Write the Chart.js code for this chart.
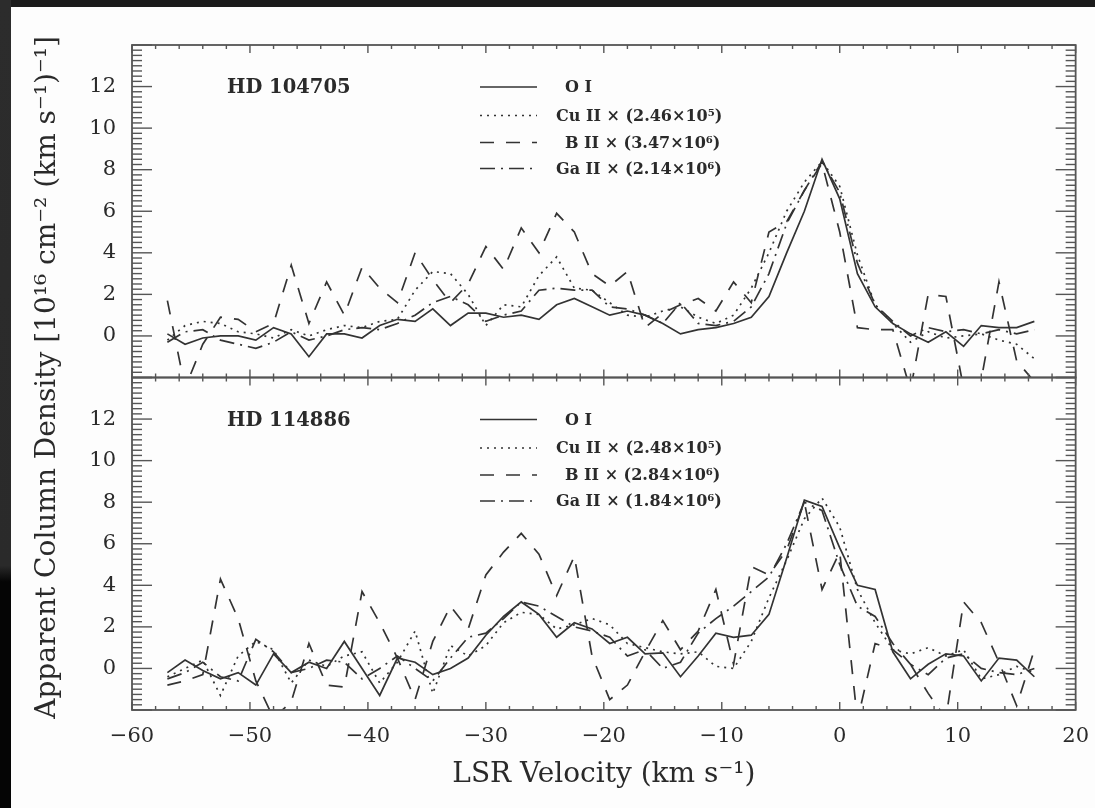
<!DOCTYPE html>
<html><head><meta charset="utf-8">
<script src="https://cdn.jsdelivr.net/npm/chart.js@4.4.0/dist/chart.umd.min.js"></script>
<style>
html,body{margin:0;padding:0;width:1095px;height:808px;overflow:hidden;background:#1b1b1b;}
#strip{position:absolute;left:0;top:0;width:11px;height:808px;background:linear-gradient(#2c2c2c 0%,#2a2a2a 70%,#050505 72%,#050505 100%);}
#wrap{position:absolute;left:11px;top:7px;width:1084px;height:801px;background:#fdfdfd;}
canvas{display:block}
</style></head><body>
<div id="strip"></div>
<div id="wrap"><canvas id="c" width="1084" height="801"></canvas></div>
<script>
// ---- data (LSR velocity grid, km/s) ----
const velocity = [-57,-55.5,-54,-52.5,-51,-49.5,-48,-46.5,-45,-43.5,-42,-40.5,-39,-37.5,-36,-34.5,-33,-31.5,-30,-28.5,-27,-25.5,-24,-22.5,-21,-19.5,-18,-16.5,-15,-13.5,-12,-10.5,-9,-7.5,-6,-4.5,-3,-1.5,0,1.5,3,4.5,6,7.5,9,10.5,12,13.5,15,16.5];

// HD 104705
const upperOI   = [0.1,-0.4,-0.1,0.0,0.0,-0.2,0.4,0.1,-1.0,0.1,0.1,-0.1,0.5,0.8,0.7,1.3,0.5,1.1,1.1,0.9,1.0,0.8,1.5,1.8,1.4,1.0,1.2,1.0,0.6,0.1,0.3,0.4,0.6,0.9,1.9,4.0,6.0,8.5,6.6,3.0,1.4,0.6,0.1,-0.3,0.2,-0.5,0.5,0.4,0.4,0.7];
const upperCuII = [-0.2,0.5,0.7,0.6,0.2,0.1,-0.1,0.3,0.0,0.3,0.5,0.4,0.7,0.8,2.2,3.1,3.0,2.0,0.5,1.5,1.4,2.9,3.8,2.3,2.2,1.6,1.0,0.9,1.2,1.4,0.9,0.6,1.0,2.3,4.0,6.0,7.4,8.4,7.2,3.9,1.5,0.6,-0.3,0.2,-0.1,0.0,0.1,-0.2,-0.4,-1.1];
const upperBII  = [1.7,-2.5,-0.4,0.9,0.8,0.2,0.6,3.4,0.6,2.6,1.0,3.3,2.3,1.6,4.0,2.7,1.6,2.5,4.3,3.2,5.2,4.0,5.9,5.0,3.0,2.4,3.1,0.4,1.1,1.5,1.8,1.2,2.6,1.6,5.0,5.5,7.0,8.3,5.0,0.4,0.3,0.3,-2.6,2.0,1.9,-2.5,-2.1,2.6,-1.2,-2.2];
const upperGaII = [-0.3,0.2,0.3,-0.2,-0.4,-0.6,-0.3,0.2,-0.2,0.0,0.3,0.4,0.3,0.6,1.0,1.6,1.9,1.5,0.7,1.0,1.2,2.2,2.3,2.2,2.2,1.4,1.3,1.0,0.6,1.6,0.6,0.5,0.7,1.4,3.0,5.4,7.0,8.4,6.9,3.5,1.5,0.7,0.0,0.4,0.2,0.3,0.1,0.3,0.1,0.3];

// HD 114886
const lowerOI   = [-0.2,0.4,-0.1,-0.5,-0.2,-0.8,0.7,-0.2,0.3,0.0,1.3,0.0,-1.3,0.5,0.3,-0.3,0.0,0.5,1.6,2.5,3.2,2.6,1.5,2.2,1.9,1.2,1.5,0.7,0.75,-0.4,0.6,1.7,1.5,1.6,2.6,5.3,8.1,7.8,5.8,4.0,3.8,0.8,-0.5,0.2,0.7,0.6,-0.6,0.5,0.4,-0.4];
const lowerCuII = [-0.4,0.0,0.4,-1.3,0.6,1.3,0.9,-0.7,0.4,0.1,0.6,0.8,-0.7,0.3,1.8,-1.2,1.1,0.6,1.1,2.2,2.7,2.6,1.9,2.1,2.4,2.1,1.2,1.0,0.8,0.7,0.8,0.1,0.0,1.3,3.4,5.2,7.2,8.2,6.8,3.8,2.2,0.9,0.7,1.0,0.6,0.9,-0.5,-0.3,0.1,-0.2];
const lowerBII  = [-0.8,-0.6,-0.3,4.3,2.4,-0.6,-2.4,-1.6,1.2,-0.8,-0.9,3.7,2.2,0.5,-1.5,1.3,3.0,1.9,4.5,5.6,6.5,5.5,3.5,5.4,0.6,-1.5,-0.8,0.8,2.3,0.9,1.8,3.8,0.2,4.9,4.5,5.7,8.0,3.8,5.6,-2.5,1.2,0.9,0.2,-1.2,-2.4,3.2,2.2,0.3,-1.8,0.9];
const lowerGaII = [-0.5,-0.2,0.3,-0.4,-0.6,1.4,0.8,-0.2,0.0,0.4,0.3,-0.5,0.0,0.6,0.0,-0.6,0.5,1.5,1.7,2.4,3.2,3.0,2.5,2.0,1.8,1.5,0.6,0.9,0.0,0.3,1.7,2.4,3.0,3.7,4.4,6.0,8.0,7.6,5.0,3.0,2.5,1.2,0.2,-0.3,0.5,0.7,0.0,-0.2,-0.3,0.0];

const xTicks = [-60,-50,-40,-30,-20,-10,0,10,20];
const yTickLabels = [0,2,4,6,8,10,12];
const panelNames = ['HD 104705','HD 114886'];
const upperLegend = ['O I','Cu II × (2.46×10⁵)','B II × (3.47×10⁶)','Ga II × (2.14×10⁶)'];
const lowerLegend = ['O I','Cu II × (2.48×10⁵)','B II × (2.84×10⁶)','Ga II × (1.84×10⁶)'];

// ---- styles ----
const INK = '#2a2a2a';
const SERIF = '"DejaVu Serif", serif';
const styles = [
  {dash: []},
  {dash: [2,5]},
  {dash: [14,12]},
  {dash: [15,6,2,6]}
];
const pts = arr => velocity.map((v,i)=>({x:v,y:arr[i]}));
function ds(arr, k, axis){
  return {data: pts(arr), yAxisID: axis, xAxisID:'x', borderColor: '#333', borderWidth: 1.7,
          borderDash: styles[k].dash, pointRadius: 0, tension: 0, fill: false};
}

const frameTicks = {
  id:'frameTicks',
  afterDraw(chart){
    const ctx = chart.ctx, x = chart.scales.x;
    ctx.save();
    ctx.strokeStyle = '#555';
    const seg = (a,b,c,d)=>{ctx.beginPath();ctx.moveTo(a,b);ctx.lineTo(c,d);ctx.stroke();};
    ['yUpper','yLower'].forEach(id=>{
      const y = chart.scales[id];
      const L = x.left, R = x.right, T = y.top, B = y.bottom;
      ctx.lineWidth = 1.8;
      ctx.strokeRect(L,T,R-L,B-T);
      ctx.lineWidth = 1.4;
      for (let k=0;k<=64;k++){
        const v = -2 + k*0.25;
        const p = y.getPixelForValue(v);
        const len = (k%8===0)?20:10;
        seg(L,p,L+len,p); seg(R,p,R-len,p);
      }
      for (let v=-60; v<=20; v+=2){
        const p = x.getPixelForValue(v);
        const len = (v%10===0)?8:4;
        seg(p,T,p,T+len); seg(p,B,p,B-len);
      }
    });
    ctx.restore();
  }
};

const panelText = {
  id:'panelText',
  afterDraw(chart){
    const ctx = chart.ctx, x = chart.scales.x;
    ctx.save();
    ctx.fillStyle = INK; ctx.strokeStyle = '#333';
    ctx.textBaseline = 'middle';
    [['yUpper',panelNames[0],upperLegend],['yLower',panelNames[1],lowerLegend]].forEach(([id,name,leg])=>{
      const y = chart.scales[id];
      const T = y.top, L = x.left;
      ctx.font = 'bold 19.5px ' + SERIF;
      ctx.textAlign = 'left';
      ctx.fillText(name, L+95, T+43);
      const rows = [42,70.5,97.5,123.5];
      const indent = [9,0,9,0];
      ctx.font = 'bold 16px ' + SERIF;
      leg.forEach((t,i)=>{
        const yy = T + rows[i];
        ctx.lineWidth = 1.7;
        ctx.setLineDash(styles[i].dash);
        ctx.beginPath(); ctx.moveTo(L+348,yy); ctx.lineTo(L+405,yy); ctx.stroke();
        ctx.setLineDash([]);
        ctx.fillText(t, L+424+indent[i], yy+1);
      });
    });
    ctx.restore();
  }
};

const tickFont = {family: SERIF, size: 21};
const yLabel = v => yTickLabels.includes(v) ? String(v) : '';
const xLabel = v => xTicks.includes(v) ? (v<0 ? '\u2212'+Math.abs(v) : String(v)) : '';

new Chart(document.getElementById('c'), {
  type: 'line',
  data: {
    datasets: [
      ds(upperOI,0,'yUpper'), ds(upperCuII,1,'yUpper'), ds(upperBII,2,'yUpper'), ds(upperGaII,3,'yUpper'),
      ds(lowerOI,0,'yLower'), ds(lowerCuII,1,'yLower'), ds(lowerBII,2,'yLower'), ds(lowerGaII,3,'yLower')
    ]
  },
  options: {
    responsive: false, animation: false, devicePixelRatio: 1,
    layout: {padding: {left: 20, top: 38, right: 19, bottom: 16}},
    plugins: {legend: {display: false}, tooltip: {enabled: false}},
    scales: {
      x: {type:'linear', position:'bottom', min:-60, max:20,
          ticks:{stepSize:10, padding:6, font:tickFont, color:INK, callback:xLabel, maxRotation:0, autoSkip:false},
          grid:{display:false}, border:{display:false},
          title:{display:true, text:'LSR Velocity (km s⁻¹)', font:{family:SERIF, size:28}, color:INK, padding:{top:0,bottom:0}},
          afterFit: s => { s.height = 82; }},
      ytitle: {type:'linear', position:'left', weight:10, min:0, max:1,
          ticks:{display:false}, grid:{display:false}, border:{display:false},
          title:{display:true, text:'Apparent Column Density [10¹⁶ cm⁻² (km s⁻¹)⁻¹]', font:{family:SERIF, size:28}, color:INK, padding:{top:0,bottom:0}},
          afterFit: s => { s.width = 43; }},
      yUpper: {type:'linear', position:'left', stack:'panels', stackWeight:1, weight:2, min:-2, max:14,
          ticks:{stepSize:2, padding:8, font:tickFont, color:INK, callback:yLabel, autoSkip:false},
          grid:{display:false}, border:{display:false},
          afterFit: s => { s.width = 58; }},
      yLower: {type:'linear', position:'left', stack:'panels', stackWeight:1, weight:1, min:-2, max:14,
          ticks:{stepSize:2, padding:8, font:tickFont, color:INK, callback:yLabel, autoSkip:false},
          grid:{display:false}, border:{display:false},
          afterFit: s => { s.width = 58; }}
    }
  },
  plugins: [frameTicks, panelText]
});
</script>
</body></html>
